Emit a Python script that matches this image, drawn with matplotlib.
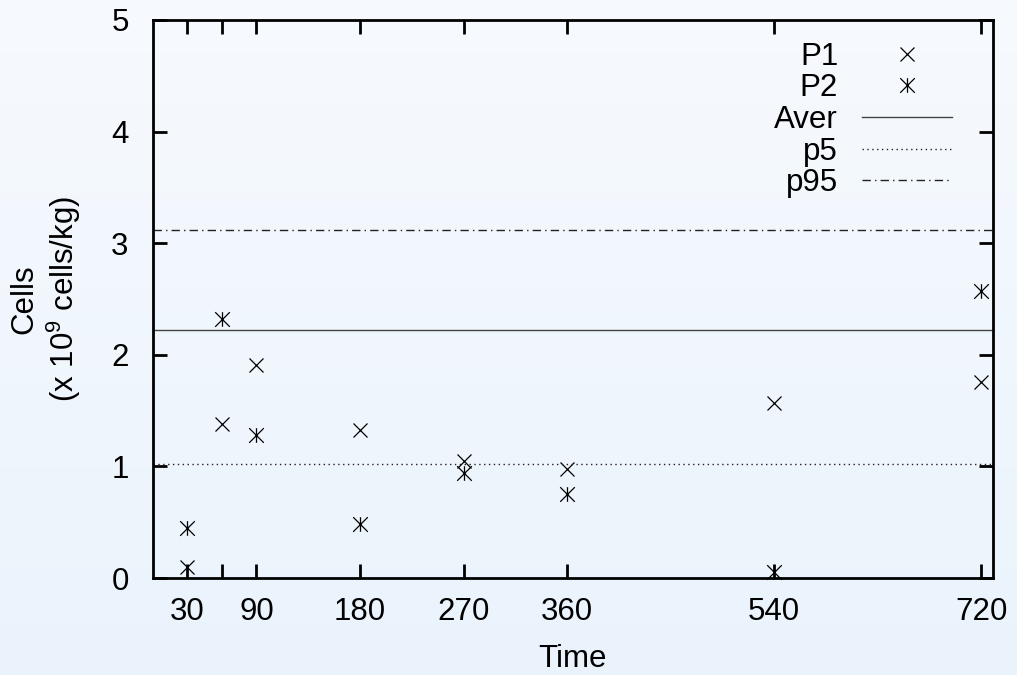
import numpy as np
import matplotlib
matplotlib.use("Agg")
import matplotlib.pyplot as plt
from matplotlib.path import Path

plt.rcParams['font.family'] = ['Liberation Sans', 'DejaVu Sans']
plt.rcParams['mathtext.fontset'] = 'custom'
plt.rcParams['mathtext.rm'] = 'Liberation Sans'
plt.rcParams['mathtext.default'] = 'regular'

# data
times = [30, 60, 90, 180, 270, 360, 540, 720]
tick_labels = ['30', '', '90', '180', '270', '360', '540', '720']
p1 = [0.10, 1.38, 1.91, 1.33, 1.05, 0.98, 1.57, 1.76]
p2 = [0.45, 2.32, 1.28, 0.48, 0.94, 0.75, 0.05, 2.57]
aver = 2.22
p5 = 1.02
p95 = 3.12

FS = 22.5

fig = plt.figure(figsize=(10.17, 6.75), dpi=100)

# light blue gradient background
bg = fig.add_axes([0, 0, 1, 1], zorder=-10)
grad = np.linspace(0, 1, 256).reshape(-1, 1)
top = np.array([247, 250, 254]) / 255
bot = np.array([234, 243, 252]) / 255
img = top + (bot - top) * grad[:, :, None]
bg.imshow(img, aspect='auto', extent=[0, 1, 0, 1])
bg.axis('off')

ax = fig.add_axes([0.1504, 0.1437, 0.8256, 0.8267])
ax.patch.set_alpha(0)

# gnuplot style asterisk: an x with a vertical stroke
star = Path([(-1, -1), (1, 1), (-1, 1), (1, -1), (0, -1), (0, 1)],
            [Path.MOVETO, Path.LINETO, Path.MOVETO, Path.LINETO, Path.MOVETO, Path.LINETO])

ax.plot(times, p1, linestyle='none', marker='x', color='black',
        markersize=10.5, markeredgewidth=0.9, label='P1', clip_on=False)
ax.plot(times, p2, linestyle='none', marker=star, color='black',
        markersize=10.5, markeredgewidth=0.9, label='P2', clip_on=False)
ax.axhline(aver, color='#444444', linewidth=1.0, label='Aver')
ax.axhline(p5, color='#222222', linewidth=1.0, linestyle=(0, (1, 2.5)), label='p5')
ax.axhline(p95, color='#222222', linewidth=1.0, linestyle=(0, (6, 3, 1, 3)), label='p95')

ax.set_xlim(0, 730)
ax.set_ylim(0, 5)
ax.set_xticks(times)
ax.set_xticklabels(tick_labels)
ax.set_yticks(range(0, 6))

for s in ax.spines.values():
    s.set_linewidth(2)
ax.tick_params(direction='in', length=10, width=2, top=True, right=True,
               labelsize=FS)
ax.tick_params(axis='x', pad=14)
ax.tick_params(axis='y', pad=17.5)

ax.set_xlabel('Time', fontsize=FS, labelpad=12)
ax.set_ylabel('Cells\n(x 10$^{9}$ cells/kg)', fontsize=FS, labelpad=20,
              linespacing=1.2)

leg = ax.legend(loc='upper right', markerfirst=False, frameon=False,
                fontsize=FS, handlelength=2.9, handletextpad=0.75,
                labelspacing=0.05, borderaxespad=0.3, bbox_to_anchor=(0.978, 1.0))

fig.savefig('out.png', dpi=100)
